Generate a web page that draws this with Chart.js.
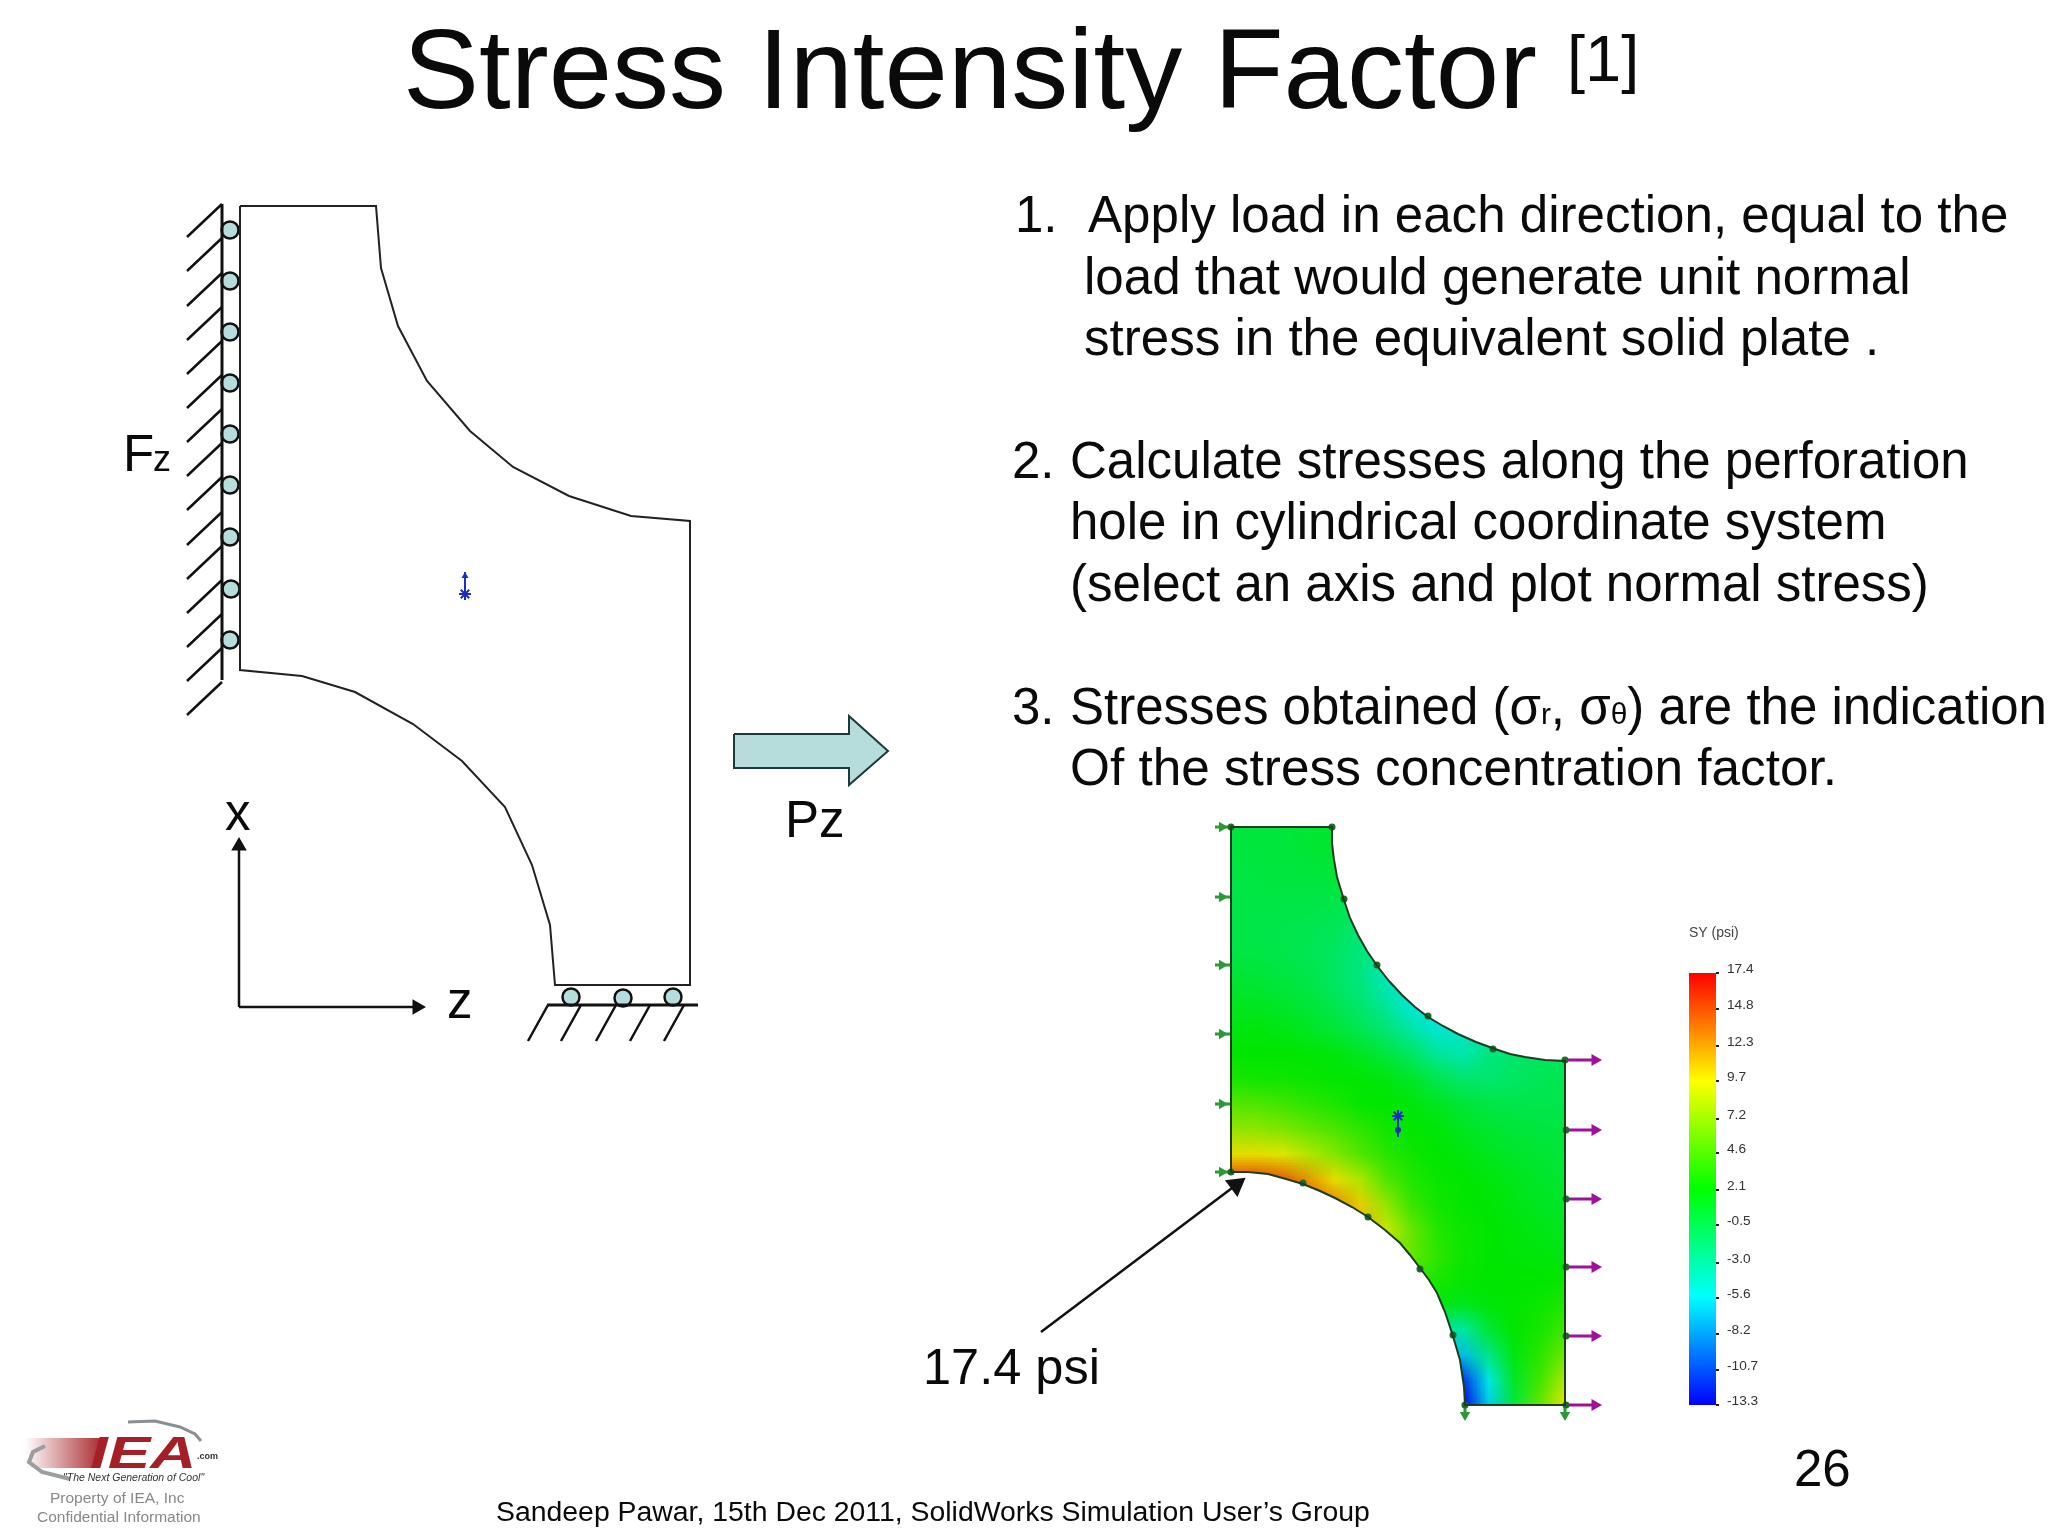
<!DOCTYPE html>
<html>
<head>
<meta charset="utf-8">
<title>Stress Intensity Factor</title>
<script src="https://cdn.jsdelivr.net/npm/chart.js@4"></script>
<style>
    html, body { margin: 0; padding: 0; background: #fff; }
    canvas { display: block; }
</style>
</head>
<body>
<canvas id="slide" width="2048" height="1536"></canvas>
<script>
// left sketch
const sketchOutline = [[240,206],[376,206],[381,268],[398,326],[427,381],[470,431],[513,467],[569,496],[631,516],[690,521],
    [690,985],[555,985],[550,925],[532,865],[505,807],[462,761],[413,724],[355,692],[302,676],[240,670],[240,206]];
const wallLine = [[222,204],[222,680]];
const wallHatchY = [204,238,273,307,341,375,409,443,477,512,546,580,614,648,682];
const rollersLeft = [[230,230],[230,281],[230,332],[230,383],[230,434],[230,485],[230,537],[231,589],[230,640]];
const rollersBottom = [[571,997],[623,998],[673,997]];
const groundLine = [[547,1005],[698,1005]];
const groundHatchX = [548,581,616,650,684];
const axisLines = [[239,1007],[239,850],[239,1007],[415,1007]];
const blockArrow = [[734,734],[849,734],[849,716],[888,751],[849,785],[849,768],[734,768],[734,734]];
const sketchMarker = [[465,572],[465,600]];

// stress plot outline
const plateOutline = [[1231,827],[1332,827],[1332,843],[1334,860],[1337,877],[1344,900],[1350,918],[1358,935],[1367,951],[1378,967],[1389,981],[1402,995],[1415,1007],[1428,1017],
    [1443,1026],[1458,1034],[1476,1042],[1495,1049],[1510,1054],[1525,1057],[1545,1060],[1565,1061],
    [1565,1405],[1465,1405],[1464,1387],[1460,1360],[1452,1333],[1445,1312],[1437,1293],[1429,1280],[1420,1268],[1410,1255],[1400,1243],[1385,1230],[1368,1217],
    [1352,1207],[1335,1198],[1320,1191],[1303,1184],[1286,1179],[1268,1174],[1248,1172],[1231,1172],[1231,827]];
const plateDots = [[1332,827],[1344,899],[1377,965],[1428,1016],[1493,1049],[1565,1060],[1303,1183],[1368,1217],[1420,1269],[1453,1335],[1231,827],[1231,1172],
    [1566,1130],[1566,1199],[1566,1267],[1566,1336],[1566,1405],[1465,1405]];
const loadRightY = [1060,1130,1199,1267,1336,1405];
const loadLeftY = [827,897,965,1034,1104,1172];
const fixedBottomX = [1465,1565];
const plotMarker = [[1398,1116],[1398,1137]];

// SY readings (psi), rows top to bottom, columns left to right
const fieldLeft = 1231, fieldRight = 1565, fieldTop = 827, fieldBottom = 1405;
const fieldValues = [
    [-0.1,0.1,0.1,0.4,0.6,0.6,0.6,0.6,0.6,0.6,0.6,0.6,0.6,0.6],
    [-0.1,0,0.1,0.3,0.5,0.5,0.5,0.5,0.5,0.5,0.5,0.5,0.5,0.5],
    [-0.2,-0.1,0,0,0.2,-0.1,-0.1,-0.1,-0.1,-0.1,-0.1,-0.1,-0.1,-0.1],
    [-0.3,-0.2,-0.2,-0.2,-0.4,-0.9,-0.9,-0.9,-0.9,-0.9,-0.9,-0.9,-0.9,-0.9],
    [-0.2,-0.3,-0.4,-0.6,-0.9,-1.7,-2.2,-2.4,-2.4,-2.4,-2.4,-2.4,-2.4,-2.4],
    [-0.1,-0.2,-0.4,-0.7,-1.2,-2.1,-2.9,-3.4,-3.4,-3.4,-3.4,-3.4,-3.4,-3.4],
    [0.4,0.3,0,-0.4,-1.2,-2.2,-4.2,-5.2,-5.2,-5.2,-4.7,-4.2,-4.2,-4.2],
    [1,0.9,0.6,0.1,-0.6,-1.6,-3,-5.2,-5.5,-5,-4.5,-4,-3.5,-3],
    [1.5,1.7,1.4,0.9,0.2,-0.7,-1.8,-3.5,-5,-4.5,-3.5,-3,-2.5,-2],
    [2.1,2.1,2.1,2,1.7,1,0.1,-1.2,-3,-3.8,-2.2,-1.5,-1.2,-1],
    [2.9,2.7,2.6,2.4,2.2,2,1.6,0.8,-0.5,-1.5,-1.6,-1.2,-0.8,-0.5],
    [4.9,4.7,4.2,3.6,3,2.3,2.1,1.7,1,0.3,-0.2,-0.4,-0.5,-0.4],
    [7,6.8,6.2,5.4,4.6,3.6,2.7,2.2,1.8,1,0.5,0.2,0,-0.1],
    [10,10,9.4,8,6.5,4.8,3.4,2.6,2.1,1.7,1.1,0.7,0.4,0.1],
    [15.3,15.3,14.3,12.3,10,7.8,4.8,3.2,2.4,2.1,1.7,1.2,0.7,0.4],
    [15,15,15,15,13,10.5,7,4,2.7,2.2,2,1.5,1,0.7],
    [12,12,12,12,12,12,8.8,5.5,3.2,2.5,2.1,1.8,1.4,1],
    [8,8,8,8,8,8,7,5.5,3.6,2.5,2.1,1.9,1.7,1.5],
    [4,4,4,4,4,4,4,4,2.9,2.3,2.1,2.1,2.1,2.3],
    [1.5,1.5,1.5,1.5,1.5,1.5,1.5,1.5,1.5,1,1.8,2.2,2.5,3.2],
    [-3,-3,-3,-3,-3,-3,-3,-3,-3,-3.4,0.2,2.1,2.9,4.3],
    [-7,-7,-7,-7,-7,-7,-7,-7,-7,-7,-2.5,1.5,3.5,5.8],
    [-11.5,-11.5,-11.5,-11.5,-11.5,-11.5,-11.5,-11.5,-11.5,-11.5,-5.5,0.8,4.3,8],
    [-13.3,-13.3,-13.3,-13.3,-13.3,-13.3,-13.3,-13.3,-13.3,-13.3,-6.5,0,5.5,9.7]
];

// colour bar
const legendLabels = ['17.4','14.8','12.3','9.7','7.2','4.6','2.1','-0.5','-3.0','-5.6','-8.2','-10.7','-13.3'];
const legendLabelY = [968,1004,1041,1076,1114,1148,1185,1220,1258,1293,1329,1365,1400];
const legendTickY = [973,1009,1046,1081,1119,1153,1190,1225,1263,1298,1334,1370,1405];
const stopValues = [-13.3,-5.6,2.1,9.7,17.4];
const stopColors = [[0,0,255],[0,255,255],[0,255,0],[255,255,0],[255,0,0]];

// logo swooshes
const logoArcTop = [[128,1422],[155,1421],[180,1427],[195,1434],[201,1441]];
const logoArcBottom = [[70,1479],[42,1472],[29,1462],[33,1452],[45,1446]];

function pts(list) {
    return list.map(p => ({ x: p[0], y: p[1] }));
}

function segments(list) {
    const out = [];
    list.forEach(s => {
        out.push({ x: s[0], y: s[1] }, { x: s[2], y: s[3] }, { x: NaN, y: NaN });
    });
    return out;
}

function line(data, color, width) {
    return { type: 'scatter', data: data, showLine: true, borderColor: color, borderWidth: width, pointRadius: 0, fill: false, tension: 0 };
}

function dots(data, color, border, radius, borderWidth) {
    return { type: 'scatter', data: data, showLine: false, backgroundColor: color, borderColor: border, pointRadius: radius, borderWidth: borderWidth };
}

function heads(data, color, radius, rotation) {
    return { type: 'scatter', data: data, showLine: false, backgroundColor: color, borderColor: color, pointStyle: 'triangle', rotation: rotation, pointRadius: radius, borderWidth: 0 };
}

function star(data, color) {
    return { type: 'scatter', data: data, showLine: false, borderColor: color, pointStyle: 'star', pointRadius: 6, borderWidth: 2 };
}

function valueColor(v, shade) {
    let i = 0;
    while (i < stopValues.length - 2 && v > stopValues[i + 1]) i++;
    const t = Math.min(1, Math.max(0, (v - stopValues[i]) / (stopValues[i + 1] - stopValues[i])));
    const c = stopColors[i].map((a, k) => Math.round((a + (stopColors[i + 1][k] - a) * t) * shade));
    return 'rgb(' + c.join(',') + ')';
}

const slidePlugin = {
    id: 'slidePlugin',
    beforeDatasetsDraw(chart) {
        const ctx = chart.ctx;
        const px = v => chart.scales.x.getPixelForValue(v);
        const py = v => chart.scales.y.getPixelForValue(v);
        const trace = list => {
            ctx.beginPath();
            list.forEach((p, i) => i ? ctx.lineTo(px(p[0]), py(p[1])) : ctx.moveTo(px(p[0]), py(p[1])));
            ctx.closePath();
        };

        // block arrow fill
        trace(blockArrow);
        ctx.fillStyle = '#b7dcdc';
        ctx.fill();

        // contour field, clipped to the plate
        const rows = fieldValues.length, cols = fieldValues[0].length;
        const off = document.createElement('canvas');
        off.width = cols;
        off.height = rows;
        const octx = off.getContext('2d');
        fieldValues.forEach((row, r) => row.forEach((v, c) => {
            octx.fillStyle = valueColor(v, 0.9);
            octx.fillRect(c, r, 1, 1);
        }));
        ctx.save();
        trace(plateOutline);
        ctx.clip();
        ctx.imageSmoothingEnabled = true;
        ctx.drawImage(off, 0.5, 0.5, cols - 1, rows - 1, px(fieldLeft), py(fieldTop), px(fieldRight) - px(fieldLeft), py(fieldBottom) - py(fieldTop));
        ctx.restore();

        // colour bar
        const top = py(legendTickY[0]), bottom = py(legendTickY[legendTickY.length - 1]);
        const grad = ctx.createLinearGradient(0, bottom, 0, top);
        stopValues.forEach((v, i) => grad.addColorStop(i / (stopValues.length - 1), valueColor(v, 1)));
        ctx.fillStyle = grad;
        ctx.fillRect(px(1689), top, px(1716) - px(1689), bottom - top);

        // logo streak
        const streak = ctx.createLinearGradient(px(25), 0, px(105), 0);
        streak.addColorStop(0, 'rgba(170,40,45,0)');
        streak.addColorStop(1, 'rgb(165,35,40)');
        ctx.fillStyle = streak;
        ctx.fillRect(px(25), py(1438), px(100) - px(25), py(1468) - py(1438));
    },
    afterDatasetsDraw(chart) {
        const ctx = chart.ctx;
        const px = v => chart.scales.x.getPixelForValue(v);
        const py = v => chart.scales.y.getPixelForValue(v);
        const face = '"Liberation Sans", Arial, sans-serif';

        const text = (str, x, y, size, color, style) => {
            ctx.font = (style ? style + ' ' : '') + size + 'px ' + face;
            ctx.fillStyle = color || '#0a0a0a';
            ctx.fillText(str, px(x), py(y));
            return ctx.measureText(str).width;
        };

        ctx.save();
        ctx.textBaseline = 'alphabetic';
        ctx.textAlign = 'left';

        text('Stress Intensity Factor', 403, 108, 114);
        text('[1]', 1567, 81, 65);

        text('1.', 1015, 232, 51);
        text('Apply load in each direction, equal to the', 1088, 232, 51.1);
        text('load that would generate unit normal', 1084, 294, 51.1);
        text('stress in the equivalent solid plate .', 1084, 355, 51.1);

        text('2.', 1012, 478, 51);
        text('Calculate stresses along the perforation', 1070, 478, 51);
        text('hole in cylindrical coordinate system', 1070, 539, 51);
        text('(select an axis and plot normal stress)', 1070, 601, 51);

        text('3.', 1012, 724, 51);
        let cx = 1070;
        cx += text('Stresses obtained (σ', cx, 724, 51);
        cx += text('r', cx, 724, 30);
        cx += text(', σ', cx, 724, 51);
        cx += text('θ', cx, 724, 30);
        text(') are the indication', cx, 724, 51);
        text('Of the stress concentration factor.', 1070, 785, 51.3);

        text('F', 123, 471, 51);
        text('z', 153, 471, 36);
        text('x', 225, 830, 51);
        text('z', 447, 1018, 51);
        text('Pz', 785, 837, 51);
        text('17.4 psi', 923, 1384, 50.5);
        text('26', 1794, 1486, 51);
        text('Sandeep Pawar, 15th Dec 2011, SolidWorks Simulation User’s Group', 496, 1521, 28.4);

        // colour bar text and ticks
        text('SY (psi)', 1689, 937, 14, '#444');
        legendLabels.forEach((label, i) => text(label, 1727, legendLabelY[i] + 5, 13.7, '#333'));
        ctx.fillStyle = '#222';
        legendTickY.forEach(y => ctx.fillRect(px(1716), py(y) - 1, 3, 2));

        // logo lettering
        ctx.filter = 'blur(0.6px)';
        ctx.save();
        ctx.translate(px(90), py(1468));
        ctx.scale(1.45, 1);
        ctx.font = 'italic bold 44px ' + face;
        ctx.fillStyle = '#a51f26';
        ctx.fillText('IEA', 0, 0);
        ctx.restore();
        text('.com', 197, 1459, 9, '#333', 'bold');
        text('"The Next Generation of Cool"', 63, 1481, 10.5, '#333', 'italic');
        text('Property of IEA, Inc', 50, 1503, 15.5, '#888');
        text('Confidential Information', 37, 1522, 15.5, '#888');
        ctx.restore();
    }
};

const leftLoads = loadLeftY.map(y => [1215, y, 1231, y]);
const rightLoads = loadRightY.map(y => [1565, y, 1596, y]);
const bottomLoads = fixedBottomX.map(x => [x, 1405, x, 1418]);
const wallHatches = wallHatchY.map(y => [222, y, 187, y + 33]);
const groundHatches = groundHatchX.map(x => [x, 1005, x - 20, 1041]);

new Chart(document.getElementById('slide').getContext('2d'), {
    data: {
        datasets: [
            line(pts(sketchOutline), '#222', 2),
            line(pts(wallLine), '#111', 3),
            line(segments(wallHatches), '#111', 2.5),
            line(pts(groundLine), '#111', 3),
            line(segments(groundHatches), '#111', 2.5),
            dots(pts(rollersLeft), '#b7dcdc', '#111', 8.5, 2.5),
            dots(pts(rollersBottom), '#b7dcdc', '#111', 8.5, 2.5),
            line(segments([axisLines[0].concat(axisLines[1]), axisLines[2].concat(axisLines[3])]), '#111', 2.5),
            heads(pts([[239,846]]), '#111', 9, 0),
            heads(pts([[417,1007]]), '#111', 9, 90),
            line(pts(blockArrow), '#1c3a3a', 2),
            line(pts(sketchMarker), '#1a2fc0', 2),
            heads(pts([[465,576]]), '#1a2fc0', 4, 0),
            star(pts([[465,594]]), '#1a2fc0'),

            line(pts(plateOutline), '#1e3d1e', 2),
            dots(pts(plateDots), '#1f6a2a', '#1f6a2a', 3.5, 0),
            line(segments(leftLoads), '#2a9a35', 3),
            heads(pts(loadLeftY.map(y => [1222, y])), '#2a9a35', 6, 90),
            line(segments(rightLoads), '#a0109a', 3),
            heads(pts(loadRightY.map(y => [1595, y])), '#a0109a', 7, 90),
            line(segments(bottomLoads), '#2a9a35', 3),
            heads(pts(fixedBottomX.map(x => [x, 1415])), '#2a9a35', 6, 180),
            line(pts(plotMarker), '#1a2fc0', 2),
            star(pts([[1398,1116]]), '#1a2fc0'),
            dots(pts([[1398,1130]]), '#1a2fc0', '#1a2fc0', 3, 0),

            line(pts([[1041,1332],[1236,1185]]), '#111', 2.5),
            heads(pts([[1236,1185]]), '#111', 12, 53),

            line(pts(logoArcTop), '#8a8f92', 3),
            line(pts(logoArcBottom), '#9a9ea0', 4)
        ]
    },
    options: {
        responsive: false,
        animation: false,
        devicePixelRatio: 1,
        layout: { padding: 0, autoPadding: false },
        plugins: { legend: { display: false }, tooltip: { enabled: false } },
        scales: {
            x: { type: 'linear', min: 0, max: 2048, display: false },
            y: { type: 'linear', min: 0, max: 1536, reverse: true, display: false }
        }
    },
    plugins: [slidePlugin]
});
</script>
</body>
</html>
